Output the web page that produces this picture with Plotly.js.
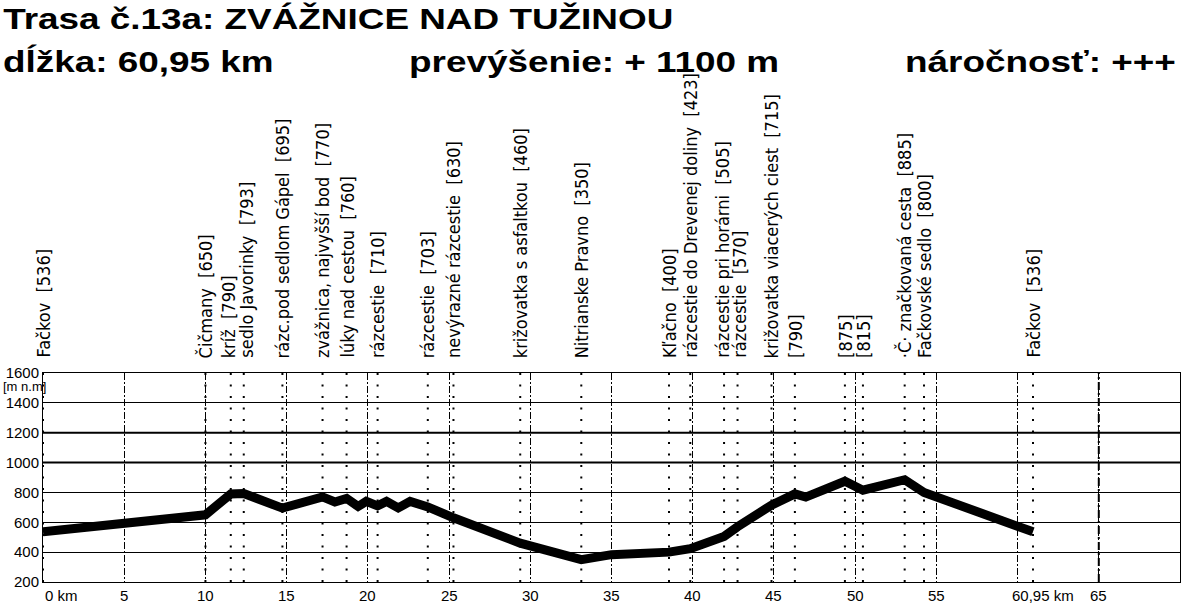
<!DOCTYPE html>
<html>
<head>
<meta charset="utf-8">
<script src="https://cdn.plot.ly/plotly-3.0.1.min.js"></script>
<style>
  html, body { margin: 0; padding: 0; background: #fff; }
  #chart { width: 1181px; height: 604px; }
</style>
</head>
<body>
<div id="chart"></div>
<script>
// Elevation profile of route 13a (km along the route, metres above sea level)
const profileKm   = [0, 5, 10, 11.56, 12.36, 14.74, 17.21, 17.97, 18.69, 19.4, 19.9, 20.6, 21.15, 21.87, 22.6, 23.69, 25.27, 29.38, 33.14, 35, 38.54, 39.85, 41.93, 42.76, 44.85, 46.29, 46.96, 49.37, 50.48, 53.05, 54.24, 60.95];
const profileElev = [536, 595, 650, 790, 793, 695, 770, 736, 760, 706, 740, 710, 740, 696, 740, 703, 630, 460, 350, 383, 400, 423, 505, 570, 715, 790, 769, 875, 815, 885, 800, 536];

// Waypoints along the route
const waypointKm   = [0, 10, 11.56, 12.36, 14.74, 17.21, 18.69, 20.6, 23.69, 25.27, 29.38, 33.14, 38.54, 39.85, 41.93, 42.76, 44.85, 46.29, 49.37, 50.48, 53.05, 54.24, 60.95];
const waypointElev = [536, 650, 790, 793, 695, 770, 760, 710, 703, 630, 460, 350, 400, 423, 505, 570, 715, 790, 875, 815, 885, 800, 536];
const waypointName = ['Fačkov', 'Čičmany', 'kríž', 'sedlo Javorinky', 'rázc.pod sedlom Gápel', 'zvážnica, najvyšší bod', 'lúky nad cestou', 'rázcestie', 'rázcestie', 'nevýrazné rázcestie', 'križovatka s asfaltkou', 'Nitrianske Pravno', 'Kľačno', 'rázcestie do Drevenej doliny', 'rázcestie pri horárni', 'rázcestie', 'križovatka viacerých ciest', '', '', '', '·Č· značkovaná cesta', 'Fačkovské sedlo', 'Fačkov'];

// Axis ticks
const kmTicks      = [0, 5, 10, 15, 20, 25, 30, 35, 40, 45, 50, 55, 60, 65];
const kmHeavy      = [65];
const kmLabelPos   = [0, 5, 10, 15, 20, 25, 30, 35, 40, 45, 50, 55, 60.95, 65];
const kmLabelText  = ['0 km', '5', '10', '15', '20', '25', '30', '35', '40', '45', '50', '55', '60,95 km', '65'];
const elevTicks    = [200, 400, 600, 800, 1000, 1200, 1400, 1600];
const elevMajor    = [1000, 1200];

// Header texts
const titleLine   = 'Trasa č.13a: ZVÁŽNICE NAD TUŽINOU';
const lengthText  = 'dĺžka: 60,95 km';
const climbText   = 'prevýšenie: + 1100 m';
const levelText   = 'náročnosť: +++';
const unitText    = '[m n.m]';

const W = 1181, H = 604;
const M = { l: 43, r: 1, t: 373, b: 22 };
const plotW = W - M.l - M.r, plotH = H - M.t - M.b;
const X_MAX = 70;
const px2paperX = px => (px - M.l) / plotW;
const px2paperY = py => (H - M.b - py) / plotH;
const km2px = km => M.l + km / X_MAX * plotW;

const labelFont = { family: 'Liberation Sans Narrow, DejaVu Sans Condensed, Arial Narrow, sans-serif', size: 18, color: '#000' };
const tickFont  = { family: 'Liberation Sans, Arial, sans-serif', size: 15, color: '#000' };
const headFont  = { family: 'Liberation Sans, Arial, sans-serif', size: 30, color: '#000', weight: 700 };

// Spread waypoint labels that would otherwise overlap
const minGap = 17;
const labelPx = waypointKm.map(km2px);
for (let pass = 0; pass < 4; pass++) {
  for (let i = 1; i < labelPx.length; i++) {
    const gap = labelPx[i] - labelPx[i - 1];
    if (gap < minGap) {
      const push = (minGap - gap) / 2;
      labelPx[i - 1] -= push;
      labelPx[i] += push;
    }
  }
}

const shapes = [];
// dotted verticals at waypoints
waypointKm.forEach(km => {
  shapes.push({ type: 'line', xref: 'x', yref: 'paper', x0: km, x1: km, y0: 0, y1: 1,
    line: { color: '#000', width: 2, dash: '2px,9.5px' }, layer: 'below' });
});
// heavier lines
elevMajor.forEach(v => {
  shapes.push({ type: 'line', xref: 'paper', yref: 'y', x0: 0, x1: 1, y0: v, y1: v,
    line: { color: '#000', width: 2 }, layer: 'below' });
});
kmHeavy.forEach(km => {
  shapes.push({ type: 'line', xref: 'x', yref: 'paper', x0: km, x1: km, y0: 0, y1: 1,
    line: { color: '#000', width: 2, dash: '8px,3px,2px,3px' }, layer: 'below' });
});

const annotations = [];
waypointKm.forEach((km, i) => {
  const name = waypointName[i];
  const txt = (name ? name + '\u00a0\u00a0' : '') + '[' + waypointElev[i] + ']';
  annotations.push({ xref: 'paper', yref: 'paper', x: px2paperX(labelPx[i]), y: 1,
    xanchor: 'center', yanchor: 'bottom', yshift: 14, textangle: -90, borderpad: 0,
    text: txt, showarrow: false, font: labelFont });
});
kmLabelPos.forEach((km, i) => {
  const t = kmLabelText[i];
  const hasUnit = t.endsWith(' km');
  annotations.push({ xref: 'x', yref: 'paper', x: km, y: 0, yanchor: 'top', yshift: -4, borderpad: 0,
    xanchor: hasUnit ? 'left' : 'center', xshift: hasUnit ? (km === 0 ? 1 : -22) : 0,
    text: t, showarrow: false, font: tickFont });
});
annotations.push({ xref: 'paper', yref: 'paper', x: 0, y: 1, xanchor: 'right', yanchor: 'middle',
  xshift: 4, yshift: -13, borderpad: 0, text: unitText, showarrow: false,
  font: { family: tickFont.family, size: 13, color: '#000' } });

// header lines (stretched horizontally after drawing)
const headerStart = annotations.length;
[[titleLine, 2, 19], [lengthText, 2, 61], [climbText, 408, 61], [levelText, 904, 61]].forEach(([t, px, py]) => {
  annotations.push({ xref: 'paper', yref: 'paper', x: px2paperX(px), y: px2paperY(py),
    xanchor: 'left', yanchor: 'middle', borderpad: 0, text: t, showarrow: false, font: headFont });
});
const headerEnd = annotations.length;

const data = [{
  type: 'scatter', mode: 'lines', x: profileKm, y: profileElev,
  line: { color: '#000', width: 9, shape: 'linear' }, hoverinfo: 'skip', cliponaxis: false
}];

const layout = {
  width: W, height: H, margin: M,
  paper_bgcolor: '#fff', plot_bgcolor: '#fff', showlegend: false,
  xaxis: { range: [0, X_MAX], tickvals: kmTicks, showticklabels: false, ticks: '',
    showgrid: true, gridcolor: '#000', gridwidth: 1, griddash: '7px,2px,2px,2px',
    zeroline: false, showline: true, linecolor: '#000', linewidth: 1, mirror: true, fixedrange: true },
  yaxis: { range: [200, 1600], tickvals: elevTicks, ticks: '', tickfont: tickFont, ticklabelstandoff: 0,
    showgrid: true, gridcolor: '#000', gridwidth: 1,
    zeroline: false, showline: true, linecolor: '#000', linewidth: 1, mirror: true, fixedrange: true },
  shapes: shapes, annotations: annotations
};

Plotly.newPlot('chart', data, layout, { displayModeBar: false, staticPlot: true }).then(gd => {
  // the header type is set wide: stretch those texts from their left edge
  gd.querySelectorAll('g.annotation').forEach(g => {
    const idx = +g.getAttribute('data-index');
    if (idx >= headerStart && idx < headerEnd) {
      const t = g.querySelector('text');
      t.style.transformBox = 'fill-box';
      t.style.transformOrigin = 'left center';
      t.style.transform = 'scaleX(1.23)';
    }
  });
});
</script>
</body>
</html>
